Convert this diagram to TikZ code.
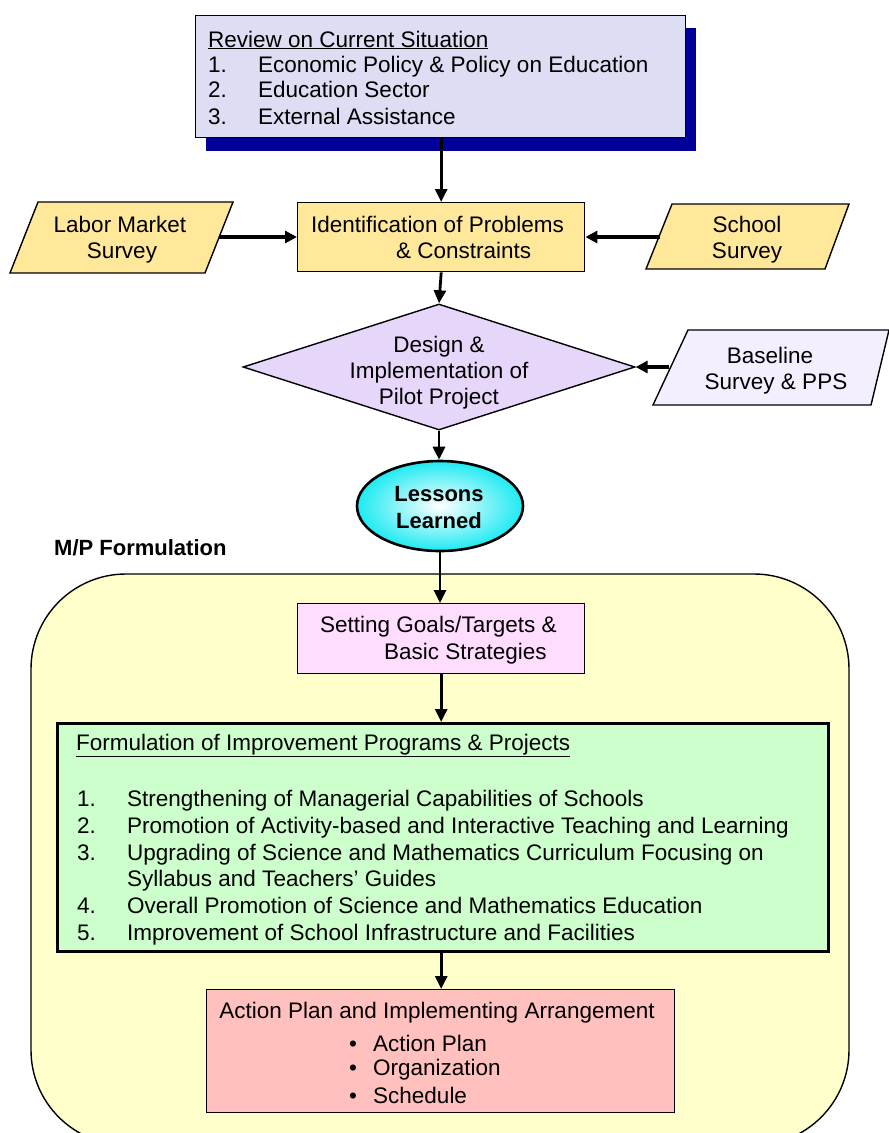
\documentclass[tikz,border=0pt]{standalone}
\usepackage{fontspec}
\setmainfont{Liberation Sans}
\usetikzlibrary{arrows.meta,shapes.geometric}
\definecolor{shadowblue}{HTML}{000099}
\definecolor{reviewfill}{HTML}{DDDDF3}
\definecolor{surveyyellow}{HTML}{FFE89A}
\definecolor{pilotlilac}{HTML}{E6D6FA}
\definecolor{baselinelilac}{HTML}{F4EFFF}
\definecolor{lessoncyan}{HTML}{1EEAF2}
\definecolor{mpyellow}{HTML}{FFFFCC}
\definecolor{goalpink}{HTML}{FFDDFF}
\definecolor{programgreen}{HTML}{CCFFCC}
\definecolor{actionsalmon}{HTML}{FFC0BE}
\begin{document}
\begin{tikzpicture}[x=1pt,y=-1pt,
  txt/.style={font=\fontsize{22.5}{26}\selectfont, inner sep=0pt},
  boldtxt/.style={font=\fontsize{22}{26}\selectfont\bfseries, inner sep=0pt},
  frame/.style={draw, line width=1.4pt},
  conn/.style={line width=2.8pt, -{Triangle[length=13pt,width=12pt]}},
  sideconn/.style={line width=3.6pt, -{Triangle[length=12pt,width=12pt]}},
]
\useasboundingbox (0,0) rectangle (889,1133);

% M/P formulation frame (runs past the lower edge)
\begin{scope}
  \clip (0,0) rectangle (889,1133);
  \draw[frame, fill=mpyellow, rounded corners=95pt] (31,574) rectangle (849,1145);
\end{scope}
\node[boldtxt, anchor=base west] (mplabel) at (54,555) {M/P Formulation};

% Review on current situation, with its drop shadow
\fill[shadowblue] (206,28) rectangle (696,151);
\node[frame, fill=reviewfill, anchor=north west, minimum width=490pt, minimum height=122pt, inner sep=0pt] (review) at (195,15) {};
\node[txt, anchor=base west] (revtitle) at (208,47) {\underline{Review on Current Situation}};
\node[txt, anchor=base west] (revn1) at (208,72) {1.};
\node[txt, anchor=base west] (revt1) at (258,72) {Economic Policy \& Policy on Education};
\node[txt, anchor=base west] (revn2) at (208,97) {2.};
\node[txt, anchor=base west] (revt2) at (258,97) {Education Sector};
\node[txt, anchor=base west] (revn3) at (208,124) {3.};
\node[txt, anchor=base west] (revt3) at (258,124) {External Assistance};

% Identification of problems
\node[frame, fill=surveyyellow, anchor=north west, minimum width=287pt, minimum height=69pt, inner sep=0pt] (ident) at (297,202) {};
\node[txt, anchor=base west] (ident1) at (311,232) {Identification of Problems};
\node[txt, anchor=base west] (ident2) at (396,258) {\& Constraints};

% Labor market survey
\draw[frame, fill=surveyyellow] (38,202) -- (233,202) -- (205,273) -- (10,273) -- cycle;
\node[txt, anchor=base] (labor1) at (120,232) {Labor Market};
\node[txt, anchor=base] (labor2) at (122,258) {Survey};
\coordinate (laborout) at (219,237);

% School survey
\draw[frame, fill=surveyyellow] (672,204) -- (849,204) -- (825,269) -- (646,269) -- cycle;
\node[txt, anchor=base] (school1) at (747,232) {School};
\node[txt, anchor=base] (school2) at (747,258) {Survey};
\coordinate (schoolout) at (660,237);

% Pilot project
\node[frame, fill=pilotlilac, diamond, minimum width=392pt, minimum height=126pt, inner sep=0pt] (pilot) at (439,367) {};
\node[txt, anchor=base] (pilot1) at (439,352) {Design \&};
\node[txt, anchor=base] (pilot2) at (439,378) {Implementation of};
\node[txt, anchor=base] (pilot3) at (439,404) {Pilot Project};

% Baseline survey
\draw[frame, fill=baselinelilac] (688,330) -- (889,330) -- (871,405) -- (653,405) -- cycle;
\node[txt, anchor=base] (base1) at (770,363) {Baseline};
\node[txt, anchor=base] (base2) at (776,389) {Survey \& PPS};
\coordinate (baseout) at (669,367);

% Lessons learned
\node[ellipse, draw, line width=2.6pt, minimum width=166pt, minimum height=90pt, inner sep=0pt,
      inner color=white, outer color=lessoncyan] (lessons) at (440,506) {};
\node[boldtxt, anchor=base] (lessons1) at (439,501) {Lessons};
\node[boldtxt, anchor=base] (lessons2) at (439,528) {Learned};

% Goals and strategies
\node[frame, fill=goalpink, anchor=north west, minimum width=287pt, minimum height=70pt, inner sep=0pt] (goals) at (297,603) {};
\node[txt, anchor=base west] (goals1) at (320,632) {Setting Goals/Targets \&};
\node[txt, anchor=base west] (goals2) at (384,659) {Basic Strategies};

% Improvement programmes
\node[draw, line width=2.8pt, fill=programgreen, anchor=north west, minimum width=771pt, minimum height=228pt, inner sep=0pt] (programs) at (56,722) {};
\node[txt, anchor=base west] (progtitle) at (76,750) {\underline{Formulation of Improvement Programs \& Projects}};
\node[txt, anchor=base west] (progn1) at (77,806) {1.};
\node[txt, anchor=base west] (progt1) at (127,806) {Strengthening of Managerial Capabilities of Schools};
\node[txt, anchor=base west] (progn2) at (77,833) {2.};
\node[txt, anchor=base west] (progt2) at (127,833) {Promotion of Activity-based and Interactive Teaching and Learning};
\node[txt, anchor=base west] (progn3) at (77,860) {3.};
\node[txt, anchor=base west] (progt3) at (127,860) {Upgrading of Science and Mathematics Curriculum Focusing on};
\node[txt, anchor=base west] (progt3b) at (127,886) {Syllabus and Teachers’ Guides};
\node[txt, anchor=base west] (progn4) at (77,913) {4.};
\node[txt, anchor=base west] (progt4) at (127,913) {Overall Promotion of Science and Mathematics Education};
\node[txt, anchor=base west] (progn5) at (77,940) {5.};
\node[txt, anchor=base west] (progt5) at (127,940) {Improvement of School Infrastructure and Facilities};

% Action plan
\node[frame, fill=actionsalmon, anchor=north west, minimum width=468pt, minimum height=123pt, inner sep=0pt] (action) at (206,989) {};
\node[txt, anchor=base] (acttitle) at (437,1018) {Action Plan and Implementing Arrangement};
\node[txt, anchor=base west] (actb1) at (349,1051) {•};
\node[txt, anchor=base west] (actt1) at (373,1051) {Action Plan};
\node[txt, anchor=base west] (actb2) at (349,1075) {•};
\node[txt, anchor=base west] (actt2) at (373,1075) {Organization};
\node[txt, anchor=base west] (actb3) at (349,1103) {•};
\node[txt, anchor=base west] (actt3) at (373,1103) {Schedule};

% Connectors
\draw[conn] (review.south -| ident.north) -- (ident.north);
\draw[conn] (ident.south) -- (pilot.north);
\draw[conn] (pilot.south) -- (pilot.south |- lessons.north);
\draw[conn] (lessons.south) -- (lessons.south |- goals.north);
\draw[conn] (goals.south) -- (goals.south |- programs.north);
\draw[conn] (goals.south |- programs.south) -- (goals.south |- action.north);
\draw[sideconn] (laborout) -- (ident.west |- laborout);
\draw[sideconn] (schoolout) -- (ident.east |- schoolout);
\draw[sideconn] (baseout) -- (pilot.east);
\end{tikzpicture}
\end{document}
